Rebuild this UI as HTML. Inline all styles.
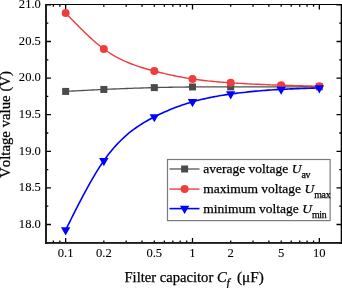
<!DOCTYPE html><html><head><meta charset="utf-8"><style>html,body{margin:0;padding:0;background:#fff;font-kerning:none;width:342px;height:288px;overflow:hidden}svg text{stroke:#000;stroke-width:0.25px}svg g.tl text{stroke-width:0.08px}</style></head><body><svg width="342" height="288" viewBox="0 0 342 288" style="position:absolute;left:0;top:0;will-change:transform">
<rect width="342" height="288" fill="#fff"/>
<path d="M46.0,242.80h2.3 M341.5,242.80h-2.3 M46.0,224.50h5.0 M341.5,224.50h-5.0 M46.0,206.20h2.3 M341.5,206.20h-2.3 M46.0,187.90h5.0 M341.5,187.90h-5.0 M46.0,169.60h2.3 M341.5,169.60h-2.3 M46.0,151.30h5.0 M341.5,151.30h-5.0 M46.0,133.00h2.3 M341.5,133.00h-2.3 M46.0,114.70h5.0 M341.5,114.70h-5.0 M46.0,96.40h2.3 M341.5,96.40h-2.3 M46.0,78.10h5.0 M341.5,78.10h-5.0 M46.0,59.80h2.3 M341.5,59.80h-2.3 M46.0,41.50h5.0 M341.5,41.50h-5.0 M46.0,23.20h2.3 M341.5,23.20h-2.3 M46.0,4.90h5.0 M341.5,4.90h-5.0 M53.36,242.9v-2.3 M53.36,4.5v2.3 M59.85,242.9v-2.3 M59.85,4.5v2.3 M65.65,242.9v-5.0 M65.65,4.5v5.0 M103.84,242.9v-2.3 M103.84,4.5v2.3 M126.17,242.9v-2.3 M126.17,4.5v2.3 M142.02,242.9v-2.3 M142.02,4.5v2.3 M154.31,242.9v-2.3 M154.31,4.5v2.3 M164.36,242.9v-2.3 M164.36,4.5v2.3 M172.85,242.9v-2.3 M172.85,4.5v2.3 M180.21,242.9v-2.3 M180.21,4.5v2.3 M186.70,242.9v-2.3 M186.70,4.5v2.3 M192.50,242.9v-5.0 M192.50,4.5v5.0 M230.69,242.9v-2.3 M230.69,4.5v2.3 M253.02,242.9v-2.3 M253.02,4.5v2.3 M268.87,242.9v-2.3 M268.87,4.5v2.3 M281.16,242.9v-2.3 M281.16,4.5v2.3 M291.21,242.9v-2.3 M291.21,4.5v2.3 M299.70,242.9v-2.3 M299.70,4.5v2.3 M307.06,242.9v-2.3 M307.06,4.5v2.3 M313.55,242.9v-2.3 M313.55,4.5v2.3 M319.35,242.9v-5.0 M319.35,4.5v5.0" stroke="#000" stroke-width="1.3" fill="none"/>
<path d="M65.65,91.42 L67.56,91.32 L69.47,91.21 L71.38,91.11 L73.29,91.01 L75.20,90.91 L77.11,90.80 L79.01,90.70 L80.92,90.60 L82.83,90.50 L84.74,90.40 L86.65,90.30 L88.56,90.20 L90.47,90.10 L92.38,90.00 L94.29,89.91 L96.20,89.81 L98.11,89.72 L100.02,89.63 L101.93,89.54 L103.84,89.45 L106.36,89.33 L108.88,89.22 L111.41,89.10 L113.93,89.00 L116.46,88.89 L118.98,88.79 L121.50,88.69 L124.03,88.59 L126.55,88.49 L129.07,88.40 L131.60,88.31 L134.12,88.22 L136.65,88.14 L139.17,88.06 L141.69,87.98 L144.22,87.90 L146.74,87.82 L149.27,87.75 L151.79,87.68 L154.31,87.62 L156.22,87.57 L158.13,87.52 L160.04,87.47 L161.95,87.43 L163.86,87.39 L165.77,87.35 L167.68,87.31 L169.59,87.27 L171.50,87.24 L173.41,87.20 L175.32,87.17 L177.23,87.14 L179.14,87.11 L181.04,87.08 L182.95,87.06 L184.86,87.03 L186.77,87.01 L188.68,86.99 L190.59,86.97 L192.50,86.96 L194.41,86.94 L196.32,86.93 L198.23,86.92 L200.14,86.91 L202.05,86.90 L203.96,86.90 L205.86,86.89 L207.77,86.89 L209.68,86.88 L211.59,86.88 L213.50,86.88 L215.41,86.88 L217.32,86.88 L219.23,86.88 L221.14,86.88 L223.05,86.88 L224.96,86.88 L226.87,86.88 L228.78,86.88 L230.69,86.88 L233.21,86.88 L235.73,86.88 L238.26,86.88 L240.78,86.88 L243.31,86.88 L245.83,86.88 L248.35,86.87 L250.88,86.87 L253.40,86.87 L255.93,86.86 L258.45,86.86 L260.97,86.85 L263.50,86.85 L266.02,86.84 L268.54,86.84 L271.07,86.83 L273.59,86.83 L276.12,86.82 L278.64,86.82 L281.16,86.81 L283.07,86.81 L284.98,86.80 L286.89,86.80 L288.80,86.80 L290.71,86.79 L292.62,86.79 L294.53,86.78 L296.44,86.78 L298.35,86.78 L300.26,86.77 L302.17,86.77 L304.08,86.77 L305.99,86.76 L307.89,86.76 L309.80,86.76 L311.71,86.75 L313.62,86.75 L315.53,86.74 L317.44,86.74 L319.35,86.74" stroke="#505050" stroke-width="1.3" fill="none"/>
<rect x="62.15" y="87.92" width="7.0" height="7.0" fill="#4b4b4b"/>
<rect x="100.34" y="85.95" width="7.0" height="7.0" fill="#4b4b4b"/>
<rect x="150.81" y="84.12" width="7.0" height="7.0" fill="#4b4b4b"/>
<rect x="189.00" y="83.46" width="7.0" height="7.0" fill="#4b4b4b"/>
<rect x="227.19" y="83.38" width="7.0" height="7.0" fill="#4b4b4b"/>
<rect x="277.66" y="83.31" width="7.0" height="7.0" fill="#4b4b4b"/>
<rect x="315.85" y="83.24" width="7.0" height="7.0" fill="#4b4b4b"/>
<path d="M65.65,12.98 L67.56,14.98 L69.47,16.97 L71.38,18.96 L73.29,20.94 L75.20,22.91 L77.11,24.86 L79.01,26.80 L80.92,28.71 L82.83,30.60 L84.74,32.47 L86.65,34.30 L88.56,36.10 L90.47,37.87 L92.38,39.59 L94.29,41.28 L96.20,42.92 L98.11,44.51 L100.02,46.05 L101.93,47.54 L103.84,48.97 L106.36,50.77 L108.88,52.47 L111.41,54.07 L113.93,55.59 L116.46,57.02 L118.98,58.36 L121.50,59.63 L124.03,60.83 L126.55,61.95 L129.07,63.01 L131.60,64.02 L134.12,64.96 L136.65,65.86 L139.17,66.71 L141.69,67.51 L144.22,68.28 L146.74,69.02 L149.27,69.73 L151.79,70.41 L154.31,71.07 L156.22,71.56 L158.13,72.05 L160.04,72.52 L161.95,72.98 L163.86,73.44 L165.77,73.88 L167.68,74.31 L169.59,74.74 L171.50,75.15 L173.41,75.55 L175.32,75.95 L177.23,76.33 L179.14,76.70 L181.04,77.06 L182.95,77.41 L184.86,77.75 L186.77,78.07 L188.68,78.39 L190.59,78.69 L192.50,78.98 L194.41,79.26 L196.32,79.52 L198.23,79.78 L200.14,80.02 L202.05,80.25 L203.96,80.47 L205.86,80.69 L207.77,80.89 L209.68,81.09 L211.59,81.27 L213.50,81.45 L215.41,81.62 L217.32,81.79 L219.23,81.95 L221.14,82.10 L223.05,82.24 L224.96,82.39 L226.87,82.52 L228.78,82.66 L230.69,82.78 L233.21,82.95 L235.73,83.11 L238.26,83.27 L240.78,83.41 L243.31,83.56 L245.83,83.70 L248.35,83.83 L250.88,83.96 L253.40,84.09 L255.93,84.21 L258.45,84.32 L260.97,84.44 L263.50,84.54 L266.02,84.65 L268.54,84.75 L271.07,84.85 L273.59,84.94 L276.12,85.03 L278.64,85.12 L281.16,85.20 L283.07,85.26 L284.98,85.32 L286.89,85.38 L288.80,85.44 L290.71,85.49 L292.62,85.55 L294.53,85.60 L296.44,85.65 L298.35,85.70 L300.26,85.75 L302.17,85.80 L304.08,85.85 L305.99,85.90 L307.89,85.95 L309.80,86.00 L311.71,86.04 L313.62,86.09 L315.53,86.13 L317.44,86.18 L319.35,86.23" stroke="#f03c3c" stroke-width="1.4" fill="none"/>
<circle cx="65.65" cy="12.98" r="4.0" fill="#f03c3c"/>
<circle cx="103.84" cy="48.97" r="4.0" fill="#f03c3c"/>
<circle cx="154.31" cy="71.07" r="4.0" fill="#f03c3c"/>
<circle cx="192.50" cy="78.98" r="4.0" fill="#f03c3c"/>
<circle cx="230.69" cy="82.78" r="4.0" fill="#f03c3c"/>
<circle cx="281.16" cy="85.20" r="4.0" fill="#f03c3c"/>
<circle cx="319.35" cy="86.23" r="4.0" fill="#f03c3c"/>
<path d="M65.65,229.99 L67.56,226.16 L69.47,222.33 L71.38,218.51 L73.29,214.71 L75.20,210.93 L77.11,207.18 L79.01,203.46 L80.92,199.79 L82.83,196.15 L84.74,192.57 L86.65,189.04 L88.56,185.57 L90.47,182.17 L92.38,178.83 L94.29,175.58 L96.20,172.41 L98.11,169.33 L100.02,166.34 L101.93,163.45 L103.84,160.67 L106.36,157.16 L108.88,153.83 L111.41,150.68 L113.93,147.70 L116.46,144.89 L118.98,142.22 L121.50,139.71 L124.03,137.33 L126.55,135.09 L129.07,132.97 L131.60,130.97 L134.12,129.07 L136.65,127.28 L139.17,125.58 L141.69,123.96 L144.22,122.42 L146.74,120.95 L149.27,119.55 L151.79,118.20 L154.31,116.90 L156.22,115.94 L158.13,115.00 L160.04,114.09 L161.95,113.19 L163.86,112.32 L165.77,111.48 L167.68,110.65 L169.59,109.84 L171.50,109.06 L173.41,108.30 L175.32,107.56 L177.23,106.84 L179.14,106.14 L181.04,105.46 L182.95,104.80 L184.86,104.16 L186.77,103.55 L188.68,102.95 L190.59,102.37 L192.50,101.82 L194.41,101.28 L196.32,100.76 L198.23,100.26 L200.14,99.78 L202.05,99.32 L203.96,98.87 L205.86,98.44 L207.77,98.02 L209.68,97.63 L211.59,97.24 L213.50,96.87 L215.41,96.51 L217.32,96.17 L219.23,95.83 L221.14,95.51 L223.05,95.20 L224.96,94.90 L226.87,94.61 L228.78,94.33 L230.69,94.06 L233.21,93.71 L235.73,93.38 L238.26,93.06 L240.78,92.75 L243.31,92.46 L245.83,92.18 L248.35,91.91 L250.88,91.65 L253.40,91.40 L255.93,91.17 L258.45,90.95 L260.97,90.73 L263.50,90.53 L266.02,90.34 L268.54,90.15 L271.07,89.98 L273.59,89.82 L276.12,89.66 L278.64,89.51 L281.16,89.37 L283.07,89.27 L284.98,89.18 L286.89,89.08 L288.80,89.00 L290.71,88.91 L292.62,88.83 L294.53,88.75 L296.44,88.67 L298.35,88.60 L300.26,88.53 L302.17,88.46 L304.08,88.40 L305.99,88.33 L307.89,88.27 L309.80,88.21 L311.71,88.15 L313.62,88.09 L315.53,88.03 L317.44,87.97 L319.35,87.91" stroke="#0000ff" stroke-width="1.6" fill="none"/>
<path d="M60.95,227.26 L70.35,227.26 L65.65,235.46 Z" fill="#0000ff"/>
<path d="M99.14,157.94 L108.54,157.94 L103.84,166.14 Z" fill="#0000ff"/>
<path d="M149.61,114.16 L159.01,114.16 L154.31,122.36 Z" fill="#0000ff"/>
<path d="M187.80,99.08 L197.20,99.08 L192.50,107.28 Z" fill="#0000ff"/>
<path d="M225.99,91.32 L235.39,91.32 L230.69,99.52 Z" fill="#0000ff"/>
<path d="M276.46,86.64 L285.86,86.64 L281.16,94.84 Z" fill="#0000ff"/>
<path d="M314.65,85.18 L324.05,85.18 L319.35,93.38 Z" fill="#0000ff"/>
<path d="M46.0,4.5 H341.5 V242.9 H46.0 Z" stroke="#000" stroke-width="1.0" fill="none"/>
<path d="M46.0,4.0 V243.9" stroke="#1a1a1a" stroke-width="1.85" fill="none"/>
<path d="M45.0,242.9 H342.5" stroke="#1a1a1a" stroke-width="1.9" fill="none"/>
<path d="M341.5,4.0 V243.9" stroke="#000" stroke-width="1.6" fill="none"/>
<g class="tl" font-family="Liberation Serif" font-size="12.6" fill="#000"><text x="40.9" y="227.85" text-anchor="end">18.0</text><text x="40.9" y="191.25" text-anchor="end">18.5</text><text x="40.9" y="154.65" text-anchor="end">19.0</text><text x="40.9" y="118.05" text-anchor="end">19.5</text><text x="40.9" y="81.45" text-anchor="end">20.0</text><text x="40.9" y="44.85" text-anchor="end">20.5</text><text x="40.9" y="8.25" text-anchor="end">21.0</text><text x="65.65" y="257.3" text-anchor="middle">0.1</text><text x="103.84" y="257.3" text-anchor="middle">0.2</text><text x="154.31" y="257.3" text-anchor="middle">0.5</text><text x="192.50" y="257.3" text-anchor="middle">1</text><text x="230.69" y="257.3" text-anchor="middle">2</text><text x="281.16" y="257.3" text-anchor="middle">5</text><text x="319.35" y="257.3" text-anchor="middle">10</text></g>
<g font-family="Liberation Serif" font-size="14.6" fill="#000"><text x="124.5" y="281.9">Filter capacitor</text><text x="217.0" y="281.9" font-style="italic">C</text><text x="226.4" y="287.3" font-style="italic" font-size="11.8">f</text><text x="236.9" y="281.9" font-size="15.3">(μF)</text></g>
<text transform="translate(10,124.5) rotate(-90)" text-anchor="middle" font-family="Liberation Serif" font-size="14.8" fill="#000">Voltage value (V)</text>
<rect x="167.5" y="159.5" width="162.60000000000002" height="61.099999999999994" fill="#fff" stroke="#7a7a7a" stroke-width="1.2"/>
<path d="M169.5,169.0 H199.5" stroke="#555" stroke-width="1.3"/>
<rect x="181.10" y="165.50" width="7.0" height="7.0" fill="#4b4b4b"/>
<path d="M169.5,189.1 H199.5" stroke="#f03c3c" stroke-width="1.4"/>
<circle cx="184.60" cy="189.10" r="4.0" fill="#f03c3c"/>
<path d="M169.5,208.6 H199.5" stroke="#0000ff" stroke-width="1.6"/>
<path d="M179.90,205.87 L189.30,205.87 L184.60,214.07 Z" fill="#0000ff"/>
<text x="203.2" y="173.1" font-family="Liberation Serif" font-size="13.5" fill="#000">average voltage <tspan font-style="italic">U</tspan><tspan font-size="9.9" dy="4.4" letter-spacing="-0.3">av</tspan></text>
<text x="203.2" y="193.1" font-family="Liberation Serif" font-size="13.5" fill="#000">maximum voltage <tspan font-style="italic">U</tspan><tspan font-size="9.9" dy="4.4" letter-spacing="-0.3">max</tspan></text>
<text x="203.2" y="213.1" font-family="Liberation Serif" font-size="13.5" fill="#000">minimum voltage <tspan font-style="italic">U</tspan><tspan font-size="9.9" dy="4.4" letter-spacing="-0.3">min</tspan></text>
</svg></body></html>
